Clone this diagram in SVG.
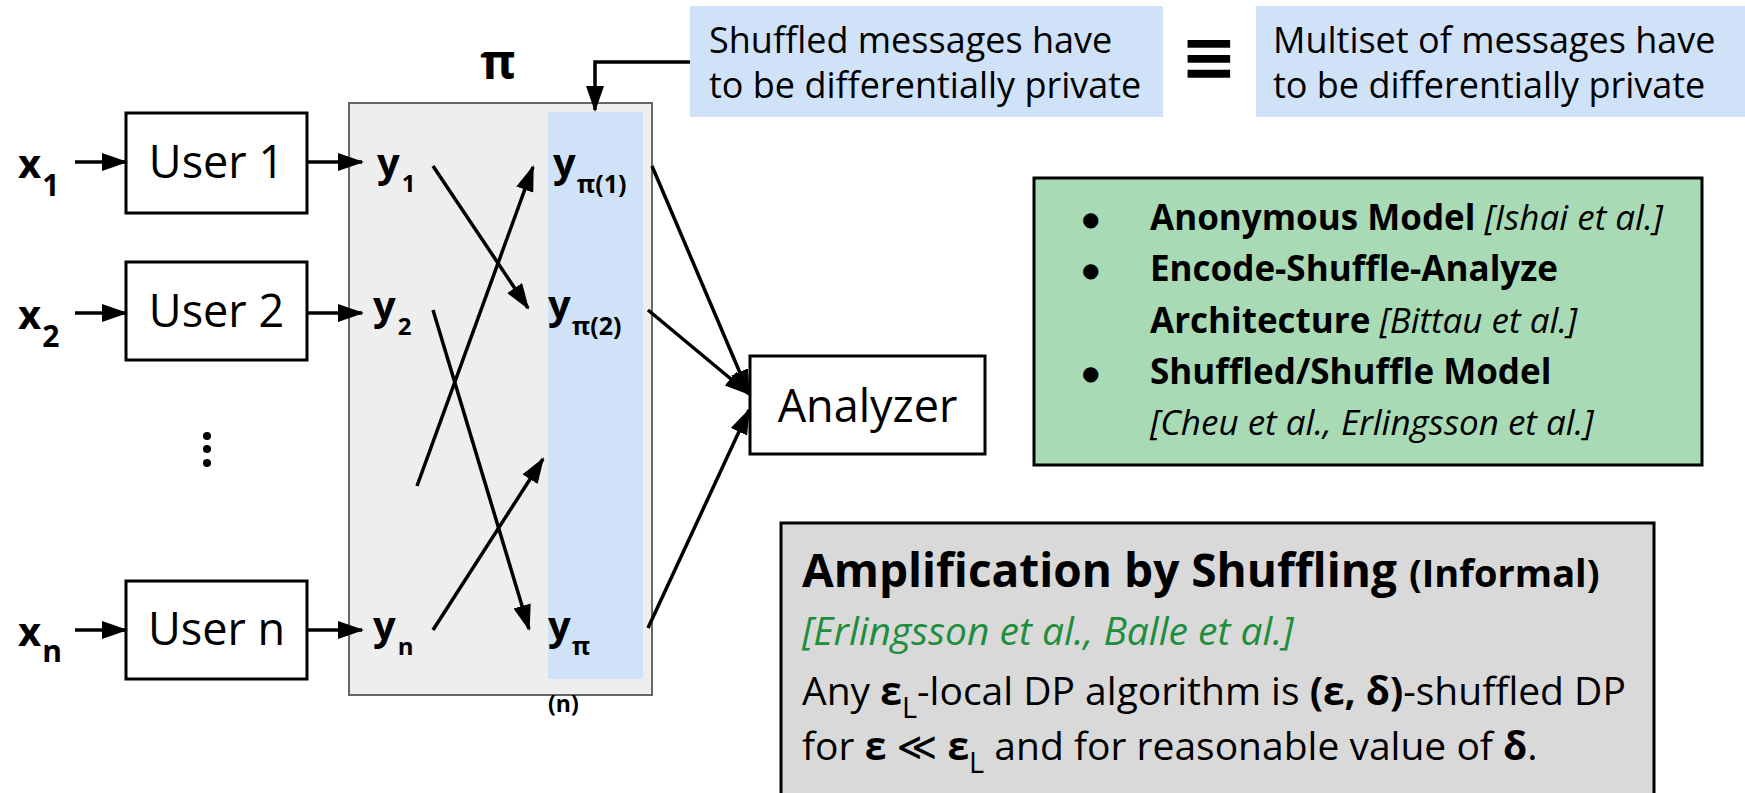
<svg xmlns="http://www.w3.org/2000/svg" width="1745" height="793" viewBox="0 0 1745 793">
<style>
text{font-family:"Open Sans","DejaVu Sans",sans-serif;fill:#000}
.b{font-weight:bold}
.i{font-style:italic}
.box{fill:#fff;stroke:#000;stroke-width:3}
.ln{stroke:#000;stroke-width:3.5;fill:none}
.lbl{font-size:40px;font-weight:bold}
.ut{font-size:45px;text-anchor:middle}
.call{font-size:36px}
.gt{font-size:35px}
.body{font-size:39px}
.bul{font-size:20px;font-family:"DejaVu Sans",sans-serif}
</style>
<defs>
<marker id="ah" markerUnits="userSpaceOnUse" markerWidth="26" markerHeight="20" refX="24" refY="9" orient="auto">
<path d="M0,0 L26,9 L0,18 z" fill="#000"/>
</marker>
</defs>

<g id="shuffler">
<rect x="349" y="103" width="303" height="592" fill="#eeeeee" stroke="#666" stroke-width="2"/>
<rect x="548" y="112" width="95" height="567" fill="#cfe2f8"/>
<text x="498" y="79" text-anchor="middle" class="b" font-size="48">π</text>
</g>

<g id="user1">
<rect class="box" x="126" y="113" width="181" height="100"/>
<text class="ut" x="216.5" y="178">User 1</text>
</g>
<g id="user2">
<rect class="box" x="126" y="262" width="181" height="98"/>
<text class="ut" x="216.5" y="327">User 2</text>
</g>
<g id="usern">
<rect class="box" x="126" y="581" width="181" height="98"/>
<text class="ut" x="216.5" y="645">User n</text>
</g>
<g id="dots">
<circle cx="207" cy="436" r="4"/>
<circle cx="207" cy="449" r="4"/>
<circle cx="207" cy="463" r="4"/>
</g>

<g id="inputs">
<text class="lbl" x="18" y="178">x<tspan font-size="30" dx="1" dy="18">1</tspan></text>
<text class="lbl" x="18" y="329">x<tspan font-size="30" dx="1" dy="18">2</tspan></text>
<text class="lbl" x="18" y="646">x<tspan font-size="30" dx="1" dy="16">n</tspan></text>
</g>

<g id="messages">
<text class="lbl" x="377" y="177">y<tspan font-size="24" dx="2" dy="15">1</tspan></text>
<text class="lbl" x="373" y="320">y<tspan font-size="24" dx="2" dy="15">2</tspan></text>
<text class="lbl" x="373" y="640">y<tspan font-size="24" dx="2" dy="15">n</tspan></text>
<text class="lbl" x="553" y="177">y<tspan font-size="25" dx="1" dy="16">π(1)</tspan></text>
<text class="lbl" x="548" y="319">y<tspan font-size="25" dx="1" dy="16">π(2)</tspan></text>
<text class="lbl" x="548" y="640">y<tspan font-size="25" dx="1" dy="15">π</tspan></text>
<text class="b" x="548" y="712" font-size="23">(n)</text>
</g>

<g id="analyzer">
<rect class="box" x="750" y="356" width="235" height="98"/>
<text class="ut" x="867.5" y="422">Analyzer</text>
</g>

<g id="callout1">
<rect x="690" y="6" width="473" height="111" fill="#cfe2f8"/>
<text class="call" x="709" y="53">Shuffled messages have</text>
<text class="call" x="709" y="98">to be differentially private</text>
</g>
<g id="equiv">
<text x="1209" y="80" text-anchor="middle" font-family="DejaVu Sans" font-weight="bold" font-size="68">≡</text>
</g>
<g id="callout2">
<rect x="1256" y="6" width="489" height="111" fill="#cfe2f8"/>
<text class="call" x="1273" y="53">Multiset of messages have</text>
<text class="call" x="1273" y="98">to be differentially private</text>
</g>

<g id="models">
<rect x="1034" y="178" width="668" height="287" fill="#a8dab5" stroke="#000" stroke-width="3"/>
<text class="bul" x="1082" y="226">●</text>
<text class="bul" x="1082" y="277">●</text>
<text class="bul" x="1082" y="380">●</text>
<text class="gt" x="1150" y="230"><tspan class="b">Anonymous Model</tspan> <tspan class="i">[Ishai et al.]</tspan></text>
<text class="gt b" x="1150" y="281">Encode-Shuffle-Analyze</text>
<text class="gt" x="1150" y="333"><tspan class="b">Architecture</tspan> <tspan class="i">[Bittau et al.]</tspan></text>
<text class="gt b" x="1150" y="384">Shuffled/Shuffle Model</text>
<text class="gt i" x="1150" y="435">[Cheu et al., Erlingsson et al.]</text>
</g>

<g id="theorem">
<rect x="781" y="523" width="873" height="290" fill="#d9d9d9" stroke="#000" stroke-width="3"/>
<text class="b" x="802" y="587" font-size="46">Amplification by Shuffling <tspan font-size="38">(Informal)</tspan></text>
<text class="body i" x="802" y="645" style="fill:#1e8e3e">[Erlingsson et al., Balle et al.]</text>
<text class="body" x="802" y="705">Any <tspan class="b">ε</tspan><tspan font-size="29" dy="13">L</tspan><tspan dy="-13">-local DP algorithm is </tspan><tspan class="b">(ε, δ)</tspan>-shuffled DP</text>
<text class="body" x="802" y="760">for <tspan class="b">ε</tspan> ≪ <tspan class="b">ε</tspan><tspan font-size="29" dy="13">L</tspan><tspan dy="-13"> and for reasonable value of </tspan><tspan class="b">δ</tspan>.</text>
</g>

<g id="connectors">
<line class="ln" x1="75" y1="162" x2="126" y2="162" marker-end="url(#ah)"/>
<line class="ln" x1="75" y1="313" x2="126" y2="313" marker-end="url(#ah)"/>
<line class="ln" x1="75" y1="630" x2="126" y2="630" marker-end="url(#ah)"/>
<line class="ln" x1="307" y1="162" x2="362" y2="162" marker-end="url(#ah)"/>
<line class="ln" x1="307" y1="313" x2="362" y2="313" marker-end="url(#ah)"/>
<line class="ln" x1="307" y1="630" x2="362" y2="630" marker-end="url(#ah)"/>
<line class="ln" x1="433" y1="166" x2="528" y2="308" marker-end="url(#ah)"/>
<line class="ln" x1="417" y1="486" x2="533" y2="167" marker-end="url(#ah)"/>
<line class="ln" x1="433" y1="310" x2="529" y2="629" marker-end="url(#ah)"/>
<line class="ln" x1="433" y1="630" x2="543" y2="459" marker-end="url(#ah)"/>
<line class="ln" x1="652" y1="166" x2="749" y2="394" marker-end="url(#ah)"/>
<line class="ln" x1="648" y1="310" x2="749" y2="394" marker-end="url(#ah)"/>
<line class="ln" x1="648" y1="628" x2="749" y2="410" marker-end="url(#ah)"/>
<polyline class="ln" points="690,62 595,62 595,110" marker-end="url(#ah)"/>
</g>
</svg>
